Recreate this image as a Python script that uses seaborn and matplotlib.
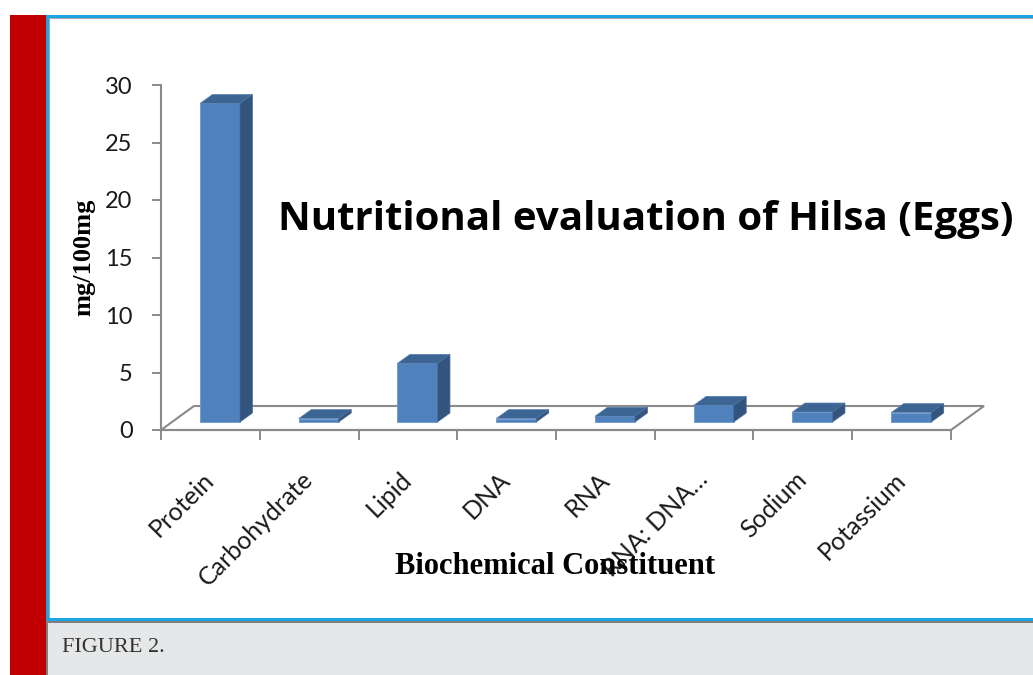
import matplotlib
matplotlib.use("Agg")
import matplotlib.pyplot as plt
import seaborn as sns
import pandas as pd
import numpy as np
from matplotlib.patches import Rectangle, Polygon

# ---- data ----
categories = ["Protein", "Carbohydrate", "Lipid", "DNA", "RNA", "RNA: DNA\u2026", "Sodium", "Potassium"]
values = [27.7, 0.3, 5.1, 0.3, 0.5, 1.45, 0.87, 0.82]
y_ticks = [0, 5, 10, 15, 20, 25, 30]

title = "Nutritional evaluation of Hilsa (Eggs)"
x_label = "Biochemical Constituent"
y_label = "mg/100mg"
caption = "FIGURE 2."

# ---- style ----
FRONT = "#4F81BD"
SIDE = "#33547E"
TOP = "#3D6594"
AXC = "#8A8A8A"
BLUE = "#1CA5E0"
W, H = 1033, 675

sns.set_theme(style="white")
plt.rcParams["font.family"] = ["Lato", "DejaVu Sans"]

fig = plt.figure(figsize=(W / 100, H / 100), dpi=100)
fig.patch.set_facecolor("white")


def frect(x0, y0, x1, y1, color, z=0):
    fig.patches.append(Rectangle((x0 / W, 1 - y1 / H), (x1 - x0) / W, (y1 - y0) / H,
                                 transform=fig.transFigure, figure=fig,
                                 facecolor=color, edgecolor="none", zorder=z))


# page decoration
frect(10, 15, 46, 675, "#C00000")
frect(46, 621, 1033, 675, "#E6E7E8")
frect(46, 620.5, 1033, 622.5, "#808080")
frect(46, 621, 47.5, 675, "#808080")
frect(46, 15, 1033, 18, BLUE)
frect(46, 15, 49, 621, BLUE)
frect(46, 618, 1033, 621, BLUE)
frect(49, 18, 1033, 19, "#A8A8A8")
frect(49, 18, 50, 618, "#A8A8A8")

# ---- axes ----
ax = fig.add_axes([161 / W, 1 - 430 / H, 790 / W, 345 / H])
ax.set_facecolor("none")
df = pd.DataFrame({"c": categories, "v": values})
sns.barplot(data=df, x="c", y="v", color=FRONT, saturation=1, width=0.405,
            ax=ax, zorder=3, edgecolor="#6C98CC", linewidth=0.6)
ax.set_xlim(-0.5, len(categories) - 0.5)
ax.set_ylim(0, 30)
ax.set_xlabel("")
ax.set_ylabel("")

bb = ax.get_window_extent()
ux = bb.width / (len(categories))   # px per x unit
uy = bb.height / 30.0               # px per y unit

# pixel offsets for the oblique projection
sx, sy = 9.6 / ux, 8.0 / uy       # bar placement inside floor
dx, dy = 12.5 / ux, 9.0 / uy      # bar depth
fx, fy = 33.0 / ux, 24.0 / uy     # floor depth

x_lo, x_hi = -0.5, len(categories) - 0.5
floor = Polygon([(x_lo, 0), (x_hi, 0), (x_hi + fx, fy), (x_lo + fx, fy)],
                closed=True, facecolor="white", edgecolor=AXC, linewidth=1.5,
                zorder=1, clip_on=False)
ax.add_patch(floor)

for p in list(ax.patches):
    if p is floor:
        continue
    x0 = p.get_x() + sx
    w = p.get_width()
    h = p.get_height()
    p.set_x(x0)
    p.set_y(sy)
    p.set_clip_on(False)
    top = Polygon([(x0, sy + h), (x0 + w, sy + h), (x0 + w + dx, sy + h + dy), (x0 + dx, sy + h + dy)],
                  closed=True, facecolor=TOP, edgecolor="#5A82B4", linewidth=0.5, zorder=3, clip_on=False)
    side = Polygon([(x0 + w, sy), (x0 + w + dx, sy + dy), (x0 + w + dx, sy + h + dy), (x0 + w, sy + h)],
                   closed=True, facecolor=SIDE, edgecolor="#4A6C98", linewidth=0.5, zorder=3, clip_on=False)
    ax.add_patch(top)
    ax.add_patch(side)

# spines / ticks
for s in ["top", "right"]:
    ax.spines[s].set_visible(False)
for s in ["left", "bottom"]:
    ax.spines[s].set_color(AXC)
    ax.spines[s].set_linewidth(1.5)
    ax.spines[s].set_zorder(2)

ax.set_yticks(y_ticks)
ax.set_yticklabels([str(t) for t in y_ticks])
ax.tick_params(axis="y", which="major", length=6.5, width=1.4, color=AXC, pad=14,
               labelsize=17, labelcolor="#1A1A1A", left=True, direction="out")

ax.set_xticks(range(len(categories)))
ax.set_xticklabels(categories)
ax.set_xticks(np.arange(-0.5, len(categories)), minor=True)
ax.tick_params(axis="x", which="major", length=0, pad=33, labelsize=18, labelcolor="#1A1A1A")
ax.tick_params(axis="x", which="minor", length=7.2, width=1.4, color=AXC, bottom=True, direction="out")
for lbl in ax.get_xticklabels():
    lbl.set_rotation(45)
    lbl.set_ha("right")
    lbl.set_va("center")
    lbl.set_rotation_mode("anchor")

# texts
fig.text(278 / W, 1 - 230 / H, title, fontsize=29, fontweight="bold",
         family=["Open Sans", "DejaVu Sans"], ha="left", va="baseline", color="black")
fig.text(555 / W, 1 - 567 / H, x_label, fontsize=22, fontweight="bold",
         family=["Liberation Serif"], ha="center", va="center", color="black")
fig.text(84 / W, 1 - 257 / H, y_label, fontsize=19, fontweight="bold", rotation=90,
         family=["Liberation Serif"], ha="center", va="center", color="black")
fig.text(62 / W, 1 - 647 / H, caption, fontsize=16,
         family=["Liberation Serif"], ha="left", va="center", color="#333333")

fig.savefig("out.png", dpi=100)
